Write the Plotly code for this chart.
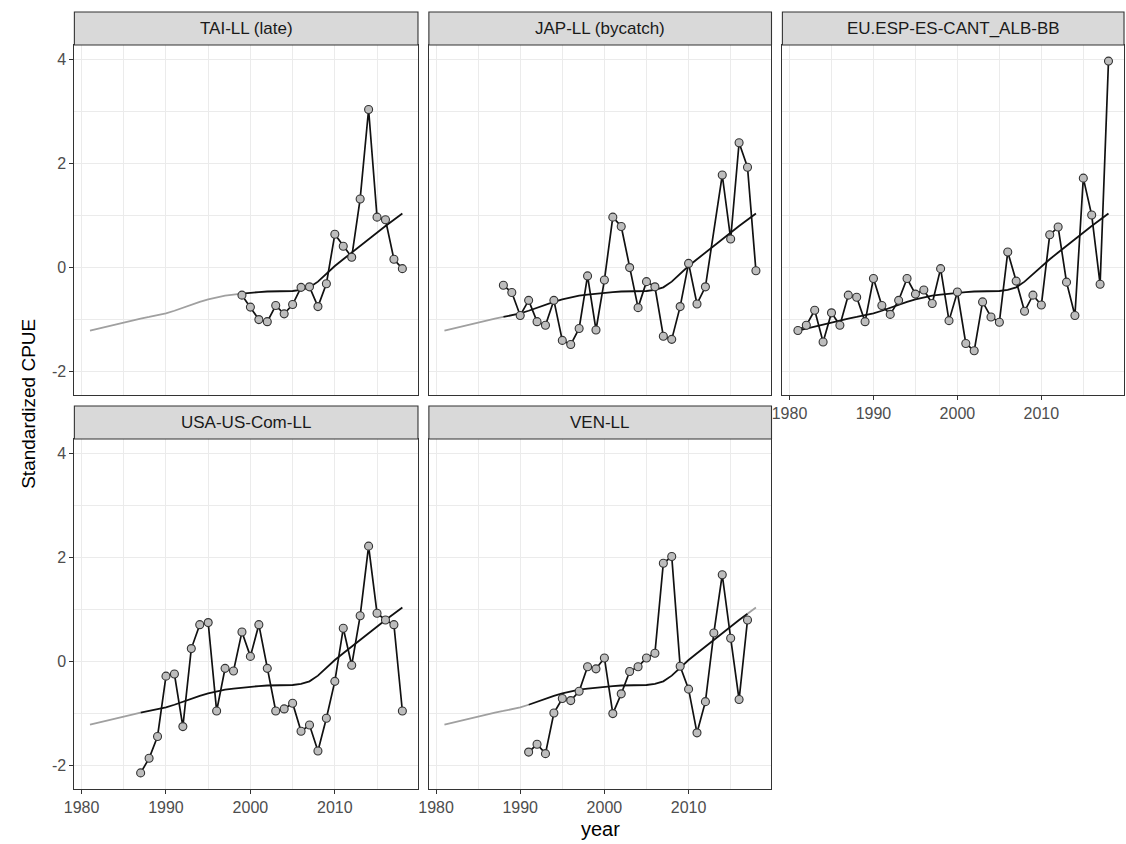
import plotly.graph_objects as go

W, H = 1126, 844

panel_names = ["TAI-LL (late)", "JAP-LL (bycatch)", "EU.ESP-ES-CANT_ALB-BB",
               "USA-US-Com-LL", "VEN-LL"]

tai_years = list(range(1999, 2019))
tai_cpue = [-0.54, -0.77, -1.01, -1.05, -0.74, -0.90, -0.72, -0.39, -0.38, -0.76,
            -0.32, 0.63, 0.40, 0.19, 1.31, 3.03, 0.96, 0.91, 0.15, -0.03]

jap_years = list(range(1988, 2013)) + list(range(2014, 2019))
jap_cpue = [-0.35, -0.49, -0.93, -0.64, -1.05, -1.12, -0.64, -1.41, -1.49, -1.18,
            -0.17, -1.21, -0.25, 0.96, 0.78, -0.01, -0.78, -0.28, -0.38, -1.33,
            -1.39, -0.76, 0.07, -0.71, -0.38, 1.77, 0.54, 2.39, 1.92, -0.07]

eu_years = list(range(1981, 2019))
eu_cpue = [-1.22, -1.12, -0.83, -1.44, -0.88, -1.12, -0.54, -0.58, -1.05, -0.22,
           -0.74, -0.91, -0.64, -0.22, -0.52, -0.44, -0.70, -0.03, -1.03, -0.48,
           -1.47, -1.61, -0.67, -0.96, -1.06, 0.29, -0.27, -0.85, -0.54, -0.73,
           0.62, 0.77, -0.29, -0.93, 1.71, 1.00, -0.33, 3.96]

usa_years = list(range(1987, 2019))
usa_cpue = [-2.15, -1.87, -1.45, -0.29, -0.25, -1.26, 0.24, 0.70, 0.74, -0.96,
            -0.14, -0.19, 0.56, 0.09, 0.70, -0.14, -0.96, -0.92, -0.81, -1.35,
            -1.23, -1.73, -1.10, -0.39, 0.63, -0.08, 0.87, 2.21, 0.92, 0.79,
            0.70, -0.96]

ven_years = list(range(1991, 2018))
ven_cpue = [-1.75, -1.60, -1.78, -1.00, -0.72, -0.76, -0.58, -0.11, -0.15, 0.06,
            -1.01, -0.63, -0.20, -0.11, 0.06, 0.15, 1.88, 2.01, -0.10, -0.54,
            -1.38, -0.78, 0.54, 1.66, 0.44, -0.74, 0.79]

trend_years = list(range(1981, 2019))
trend_cpue = [-1.22, -1.18, -1.14, -1.10, -1.06, -1.02, -0.99, -0.96, -0.93, -0.89,
              -0.84, -0.78, -0.72, -0.67, -0.62, -0.58, -0.55, -0.53, -0.51, -0.49,
              -0.48, -0.47, -0.47, -0.46, -0.46, -0.44, -0.39, -0.28, -0.13, 0.02,
              0.15, 0.28, 0.41, 0.54, 0.66, 0.79, 0.91, 1.03]

x_ticks = [1980, 1990, 2000, 2010]
x_labels = ["1980", "1990", "2000", "2010"]
y_ticks = [-2, 0, 2, 4]
y_labels = ["-2", "0", "2", "4"]

series = [(tai_years, tai_cpue), (jap_years, jap_cpue), (eu_years, eu_cpue),
          (usa_years, usa_cpue), (ven_years, ven_cpue)]

# panel boxes in pixels: x0, x1, y0 (top), y1 (bottom)
boxes = [(64, 411, 45, 395), (422, 768, 45, 395), (779, 1124, 45, 395),
         (64, 411, 439, 789), (422, 768, 439, 789)]
STRIP_H = 33
show_x = [False, False, True, True, True]
show_y = [True, False, False, True, False]

FONT = "Liberation Sans, Arial, sans-serif"
TICK_COLOR = "#4D4D4D"
BORDER = "#333333"
GRID = "#EBEBEB"

fig = go.Figure()
layout = dict(width=W, height=H, autosize=False,
              margin=dict(l=0, r=0, t=0, b=0),
              paper_bgcolor="white", plot_bgcolor="white",
              showlegend=False, font=dict(family=FONT))
shapes = []
annotations = []

for i, ((x0, x1, y0, y1), name, (yrs, vals)) in enumerate(zip(boxes, panel_names, series)):
    n = i + 1
    xa = "x" if n == 1 else f"x{n}"
    ya = "y" if n == 1 else f"y{n}"
    xkey = "xaxis" if n == 1 else f"xaxis{n}"
    ykey = "yaxis" if n == 1 else f"yaxis{n}"

    layout[xkey] = dict(
        domain=[x0 / W, x1 / W], anchor=ya, range=[1979.15, 2019.85],
        tickmode="array", tickvals=x_ticks, ticktext=x_labels,
        showgrid=True, gridcolor=GRID, gridwidth=1.1,
        minor=dict(tickmode="array", tickvals=[1985, 1995, 2005, 2015],
                   showgrid=True, gridcolor=GRID, gridwidth=0.6),
        zeroline=False, showline=True, mirror=True, linecolor=BORDER, linewidth=1.1,
        ticks="outside" if show_x[i] else "", ticklen=4, tickcolor=BORDER, tickwidth=1.1,
        showticklabels=show_x[i], tickfont=dict(size=16, color=TICK_COLOR, family=FONT),
    )
    layout[ykey] = dict(
        domain=[1 - y1 / H, 1 - y0 / H], anchor=xa, range=[-2.46, 4.27],
        tickmode="array", tickvals=y_ticks, ticktext=y_labels,
        showgrid=True, gridcolor=GRID, gridwidth=1.1,
        minor=dict(tickmode="array", tickvals=[-1, 1, 3],
                   showgrid=True, gridcolor=GRID, gridwidth=0.6),
        zeroline=False, showline=True, mirror=True, linecolor=BORDER, linewidth=1.1,
        ticks="outside" if show_y[i] else "", ticklen=4, tickcolor=BORDER, tickwidth=1.1,
        showticklabels=show_y[i], tickfont=dict(size=16, color=TICK_COLOR, family=FONT),
    )

    # trend: grey outside the series' years, black within
    first, last = yrs[0], yrs[-1]
    pre = [(y, v) for y, v in zip(trend_years, trend_cpue) if y <= first]
    mid = [(y, v) for y, v in zip(trend_years, trend_cpue) if first <= y <= last]
    post = [(y, v) for y, v in zip(trend_years, trend_cpue) if y >= last]
    for seg, col in ((pre, "#A0A0A0"), (post, "#A0A0A0"), (mid, "#111111")):
        if len(seg) > 1:
            fig.add_trace(go.Scatter(x=[s[0] for s in seg], y=[s[1] for s in seg],
                                     mode="lines", line=dict(color=col, width=1.8),
                                     xaxis=xa, yaxis=ya, hoverinfo="skip"))

    fig.add_trace(go.Scatter(x=yrs, y=vals, mode="lines+markers",
                             line=dict(color="#111111", width=1.7),
                             marker=dict(size=8, color="#BDBDBD",
                                         line=dict(color="#333333", width=1.1)),
                             xaxis=xa, yaxis=ya))

    # strip
    shapes.append(dict(type="rect", xref="paper", yref="paper",
                       x0=x0 / W, x1=x1 / W, y0=1 - y0 / H, y1=1 - (y0 - STRIP_H) / H,
                       fillcolor="#D9D9D9", line=dict(color=BORDER, width=1.1), layer="above"))
    annotations.append(dict(text=name, xref="paper", yref="paper",
                            x=(x0 + x1) / 2 / W, y=1 - (y0 - STRIP_H / 2) / H,
                            xanchor="center", yanchor="middle", showarrow=False,
                            font=dict(size=17, color="#1A1A1A", family=FONT)))

annotations.append(dict(text="year", xref="paper", yref="paper",
                        x=595 / W, y=1 - 829 / H, xanchor="center", yanchor="middle",
                        showarrow=False, font=dict(size=20, color="black", family=FONT)))
annotations.append(dict(text="Standardized CPUE", xref="paper", yref="paper",
                        x=18 / W, y=1 - 404 / H, xanchor="center", yanchor="middle",
                        textangle=-90, showarrow=False,
                        font=dict(size=19, color="black", family=FONT)))

layout["shapes"] = shapes
layout["annotations"] = annotations
fig.update_layout(**layout)
fig.write_html("out.html")
